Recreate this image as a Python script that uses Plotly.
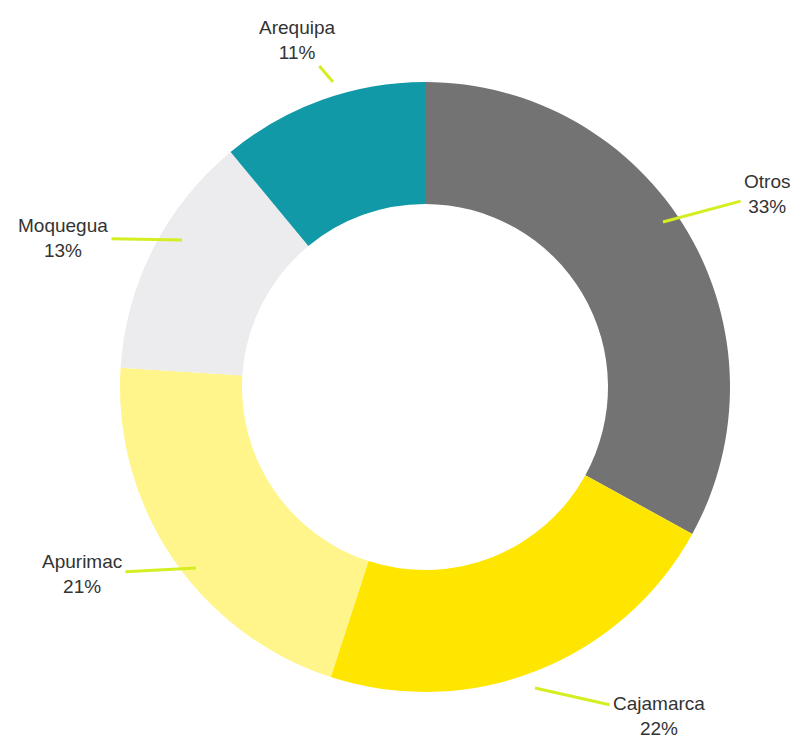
import plotly.graph_objects as go

regions = ["Otros", "Cajamarca", "Apurimac", "Moquegua", "Arequipa"]
shares = [33, 22, 21, 13, 11]
colors = ["#737373", "#ffe600", "#fff58a", "#ececee", "#1199a8"]

W, H = 799, 743

# label text centre and leader-line tip, in pixels
label_pos = {
    "Otros": ((767, 194), (663, 222)),
    "Cajamarca": ((659, 716), (535, 688)),
    "Apurimac": ((82, 574), (196, 568)),
    "Moquegua": ((63, 238), (182, 240)),
    "Arequipa": ((297, 40), (333, 82)),
}

fig = go.Figure(go.Pie(
    labels=regions,
    values=shares,
    marker=dict(colors=colors, line=dict(width=0)),
    hole=0.6,
    sort=False,
    direction="clockwise",
    rotation=0,
    textinfo="none",
    hoverinfo="label+percent",
    domain=dict(x=[120 / W, 730 / W], y=[1 - 692 / H, 1 - 82 / H]),
))

for name, val in zip(regions, shares):
    (tx, ty), (px, py) = label_pos[name]
    fig.add_annotation(
        x=px / W, y=1 - py / H, xref="paper", yref="paper",
        ax=tx - px, ay=ty - py,
        text=f"{name}<br>{val}%",
        showarrow=True, arrowhead=0, arrowwidth=3, arrowcolor="#d4ee22",
        standoff=0, startstandoff=2,
        font=dict(family="Liberation Sans, Arial, sans-serif", size=19, color="#333333"),
        align="center",
    )

fig.update_layout(
    width=W, height=H,
    margin=dict(l=0, r=0, t=0, b=0),
    showlegend=False,
    paper_bgcolor="white",
    plot_bgcolor="white",
)

fig.write_html("out.html", config={"displayModeBar": False},
               post_script="document.body.style.margin='0';")
